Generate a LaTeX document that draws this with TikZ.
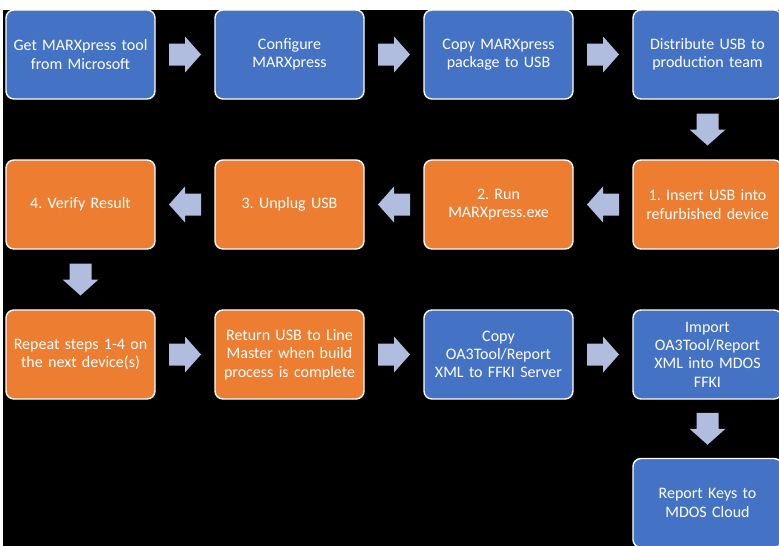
\documentclass[tikz,border=0pt]{standalone}
\usepackage{fontspec}
\setmainfont{Carlito}
\frenchspacing
\usetikzlibrary{positioning,calc}
\definecolor{stepblue}{HTML}{4472C4}
\definecolor{steporange}{HTML}{ED7D31}
\definecolor{arrowblue}{HTML}{B0BDDF}
\newcommand{\flowarrow}[3]{%
  \coordinate (mid) at ($(#1)!0.5!(#2)$);
  \fill[arrowblue, shift={(mid)}, rotate=#3]
    (-16,-11) -- (0,-11) -- (0,-18) -- (16,0) -- (0,18) -- (0,11) -- (-16,11) -- cycle;}
\begin{document}
\begin{tikzpicture}
[
    x=1pt, y=1pt,
    box/.style={draw=white, line width=1.4pt, rounded corners=8pt,
        minimum width=149pt, minimum height=89pt, inner sep=0pt,
        text width=147pt, align=center, text=white,
        font=\fontsize{16}{18.3}\selectfont},
    bluebox/.style={box, fill=stepblue},
    orangebox/.style={box, fill=steporange},
    node distance=59.6pt and 58.6pt,
]
\useasboundingbox (0,0) rectangle (779,-546);
\clip (0,0) rectangle (779,-546);
\fill[white] (0,0) rectangle (779,-546);
\fill[black] (2.5,-9.5) rectangle (779,-546);

\node[bluebox] (get) at (80.5,-54.5) {Get MARXpress tool\\from Microsoft};
\node[bluebox, right=of get] (configure) {Configure\\MARXpress};
\node[bluebox, right=of configure] (copy) {Copy MARXpress\\package to USB};
\node[bluebox, right=of copy] (distribute) {Distribute USB to\\production team};
\node[orangebox, below=of distribute] (insert) {1. Insert USB into\\refurbished device};
\node[orangebox, left=of insert] (run) {2. Run\\MARXpress.exe};
\node[orangebox, left=of run] (unplug) {3. Unplug USB};
\node[orangebox, left=of unplug] (verify) {4. Verify Result};
\node[orangebox, below=of verify] (repeat) {Repeat steps 1-4 on\\the next device(s)};
\node[orangebox, right=of repeat] (return) {Return USB to Line\\Master when build\\process is complete};
\node[bluebox, right=of return] (copyxml) {Copy\\OA3Tool/Report\\XML to FFKI Server};
\node[bluebox, right=of copyxml] (import) {Import\\OA3Tool/Report\\XML into MDOS\\FFKI};
\node[bluebox, below=58.1pt of import] (report) {Report Keys to\\MDOS Cloud};

\flowarrow{get}{configure}{0}
\flowarrow{configure}{copy}{0}
\flowarrow{copy}{distribute}{0}
\flowarrow{distribute}{insert}{-90}
\flowarrow{insert}{run}{180}
\flowarrow{run}{unplug}{180}
\flowarrow{unplug}{verify}{180}
\flowarrow{verify}{repeat}{-90}
\flowarrow{repeat}{return}{0}
\flowarrow{return}{copyxml}{0}
\flowarrow{copyxml}{import}{0}
\flowarrow{import}{report}{-90}
\end{tikzpicture}
\end{document}
